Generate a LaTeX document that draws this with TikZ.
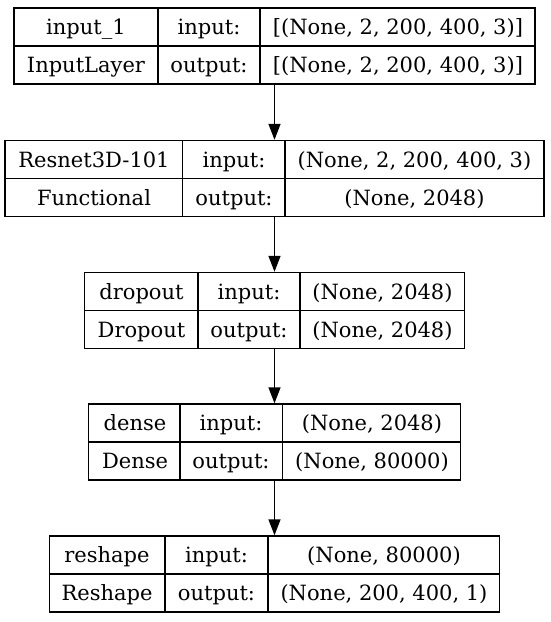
\documentclass[tikz,border=0pt]{standalone}
\usepackage{fontspec}
\setmainfont{DejaVu Serif}
\usetikzlibrary{arrows.meta}
\begin{document}
\begin{tikzpicture}[
    x=1pt,
    y=-1pt,
    font=\fontsize{21}{25}\selectfont,
    line width=1.4pt,
    layer/.style={draw, inner sep=0pt, minimum height=76pt},
    cell/.style={inner sep=0pt, text height=15pt, text depth=0pt},
    flow/.style={-{Triangle[length=16pt,width=12pt]}}
]
\useasboundingbox (0,0) rectangle (550,622);

\node[layer, minimum width=521pt] (input1) at (274.5,46) {};
\draw (input1.west) -- (input1.east);
\draw (158,8) -- (158,84);
\draw (260,8) -- (260,84);
\node[cell] (input1name) at (86,27) {input\_1};
\node[cell] (input1type) at (86,65) {InputLayer};
\node[cell] (input1in) at (209,27) {input:};
\node[cell] (input1out) at (209,65) {output:};
\node[cell] (input1inshape) at (398,27) {[(None, 2, 200, 400, 3)]};
\node[cell] (input1outshape) at (398,65) {[(None, 2, 200, 400, 3)]};

\node[layer, minimum width=539pt] (resnet) at (274.5,178.5) {};
\draw (resnet.west) -- (resnet.east);
\draw (182.5,140.5) -- (182.5,216.5);
\draw (285,140.5) -- (285,216.5);
\node[cell] (resnetname) at (94,159.5) {Resnet3D-101};
\node[cell] (resnettype) at (94,197.5) {Functional};
\node[cell] (resnetin) at (234,159.5) {input:};
\node[cell] (resnetout) at (234,197.5) {output:};
\node[cell] (resnetinshape) at (414.5,159.5) {(None, 2, 200, 400, 3)};
\node[cell] (resnetoutshape) at (414.5,197.5) {(None, 2048)};

\node[layer, minimum width=380pt] (dropout) at (274.5,310.5) {};
\draw (dropout.west) -- (dropout.east);
\draw (198,272.5) -- (198,348.5);
\draw (300,272.5) -- (300,348.5);
\node[cell] (dropoutname) at (141.5,291.5) {dropout};
\node[cell] (dropouttype) at (141.5,329.5) {Dropout};
\node[cell] (dropoutin) at (249,291.5) {input:};
\node[cell] (dropoutout) at (249,329.5) {output:};
\node[cell] (dropoutinshape) at (382.5,291.5) {(None, 2048)};
\node[cell] (dropoutoutshape) at (382.5,329.5) {(None, 2048)};

\node[layer, minimum width=371.5pt] (dense) at (274.5,442) {};
\draw (dense.west) -- (dense.east);
\draw (180,404) -- (180,480);
\draw (282.5,404) -- (282.5,480);
\node[cell] (densename) at (135,423) {dense};
\node[cell] (densetype) at (135,461) {Dense};
\node[cell] (densein) at (231,423) {input:};
\node[cell] (denseout) at (231,461) {output:};
\node[cell] (denseinshape) at (372,423) {(None, 2048)};
\node[cell] (denseoutshape) at (372,461) {(None, 80000)};

\node[layer, minimum width=450.5pt] (reshape) at (274.5,574) {};
\draw (reshape.west) -- (reshape.east);
\draw (165,536) -- (165,612);
\draw (268,536) -- (268,612);
\node[cell] (reshapename) at (107,555) {reshape};
\node[cell] (reshapetype) at (107,593) {Reshape};
\node[cell] (reshapein) at (216.5,555) {input:};
\node[cell] (reshapeout) at (216.5,593) {output:};
\node[cell] (reshapeinshape) at (384,555) {(None, 80000)};
\node[cell] (reshapeoutshape) at (384,593) {(None, 200, 400, 1)};

\draw[flow] (input1.south) -- (resnet.north);
\draw[flow] (resnet.south) -- (dropout.north);
\draw[flow] (dropout.south) -- (dense.north);
\draw[flow] (dense.south) -- (reshape.north);
\end{tikzpicture}
\end{document}
